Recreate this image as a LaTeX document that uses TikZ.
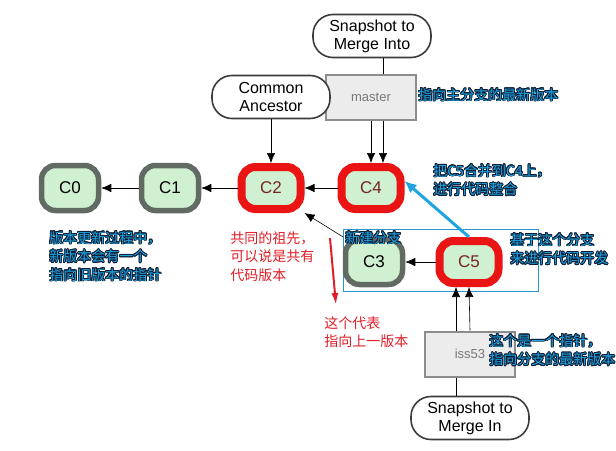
\documentclass[tikz,border=0pt]{standalone}
\usepackage{fontspec}
\setmainfont{Liberation Sans}
\newfontfamily\cjk{Noto Sans CJK SC}
\usepackage{contour}
\contourlength{0.8pt}
\usetikzlibrary{arrows.meta}
\definecolor{cgreen}{RGB}{207,241,210}
\definecolor{cgray}{RGB}{98,106,100}
\definecolor{cred}{RGB}{235,20,20}
\definecolor{cbrown}{RGB}{120,35,30}
\definecolor{sgray}{RGB}{60,60,60}
\definecolor{rgray}{RGB}{140,140,140}
\definecolor{rfill}{RGB}{236,236,236}
\definecolor{rtext}{RGB}{120,120,120}
\definecolor{nblue}{RGB}{30,165,225}
\definecolor{nnavy}{RGB}{15,30,55}
\definecolor{tred}{RGB}{225,30,40}
\definecolor{bblue}{RGB}{40,150,200}
\begin{document}
\begin{tikzpicture}[x=1pt,y=-1pt,semithick,>={Latex[length=10pt,width=8.5pt]},
  commit/.style={draw=cgray,fill=cgreen,line width=5.5pt,rounded corners=14pt,minimum width=57pt,minimum height=45pt,font=\fontsize{17}{17}\selectfont},
  headc/.style={commit,draw=cred,line width=8pt,minimum width=59pt,minimum height=42pt,text=cbrown},
  snap/.style={draw=sgray,fill=white,line width=1.6pt,rounded corners=20pt,minimum width=118pt,minimum height=43pt,align=center,font=\fontsize{16}{18}\selectfont},
  ref/.style={draw=rgray,fill=rfill,line width=2pt,minimum width=90pt,minimum height=45pt,text=rtext,font=\fontsize{13}{13}\selectfont},
  note/.style={anchor=north west,inner sep=0pt,align=left,text=nblue,font=\cjk\fontsize{14}{18.5}\selectfont},
  rnote/.style={note,text=tred}]
  \useasboundingbox[fill=white](0,0)rectangle(616,450);
  \draw[bblue,line width=1pt](343,229)rectangle(538,291);
  \node[snap](snapinto)at(372,36){Snapshot to\\Merge Into};
  \node[ref](master)at(371,97){master};
  \node[snap](ancestor)at(271,97){Common\\Ancestor};
  \node[commit](c0)at(70,188){C0};
  \node[commit](c1)at(170,188){C1};
  \node[headc](c2)at(271,188){C2};
  \node[headc](c4)at(371,188){C4};
  \node[commit](c3)at(374,262){C3};
  \node[headc](c5)at(469,262){C5};
  \node[ref](iss)at(470,354){iss53};
  \node[snap](snapin)at(470,418){Snapshot to\\Merge In};
  \draw([xshift=12pt]master.north)--([xshift=12pt]master.north|-snapinto.south);
  \draw[->](master.south)--(c4.north);
  \draw[->]([xshift=12pt]master.south)--([xshift=12pt]master.south|-c4.north);
  \draw[->](ancestor.south)--(c2.north);
  \draw[->](c1.west)--(c0.east);
  \draw[->](c2.west)--(c1.east);
  \draw[->](c4.west)--(c2.east);
  \draw[->](c5.west)--(c3.east);
  \draw[->](c3.north west)--(c2.south east);
  \draw[->](iss.north)--(c5.south);
  \draw[->]([xshift=-14pt]iss.north)--([xshift=-14pt]iss.north|-c5.south);
  \draw([xshift=-14pt]iss.south)--([xshift=-14pt]iss.south|-snapin.north);
  \draw[nblue,line width=3pt,-{Latex[length=12pt,width=11pt]}](c5.north)--([yshift=7pt]c4.east);
  \coordinate(redfrom)at(330,238);
  \coordinate(redto)at(336,305);
  \draw[tred,line width=2pt,-{Latex[length=12pt,width=7pt]}](redfrom)--(redto);
  \node[note](masternote)at(418,88){\contour{nnavy}{指向主分支的最新版本}};
  \node[note](mergenote)at(433,164){\contour{nnavy}{把C5合并到C4上，}\\\contour{nnavy}{进行代码整合}};
  \node[note](branchnote)at(510,233){\contour{nnavy}{基于这个分支}\\\contour{nnavy}{来进行代码开发}};
  \node[note](newbranch)at(345,231){\contour{nnavy}{新建分支}};
  \node[note](leftnote)at(49,231){\contour{nnavy}{版本更新过程中，}\\\contour{nnavy}{新版本会有一个}\\\contour{nnavy}{指向旧版本的指针}};
  \node[note](issnote)at(489,334){\contour{nnavy}{这个是一个指针，}\\\contour{nnavy}{指向分支的最新版本}};
  \node[rnote](ancnote)at(230,231){共同的祖先，\\可以说是共有\\代码版本};
  \node[rnote](rednote)at(324,316){这个代表\\指向上一版本};
\end{tikzpicture}
\end{document}
